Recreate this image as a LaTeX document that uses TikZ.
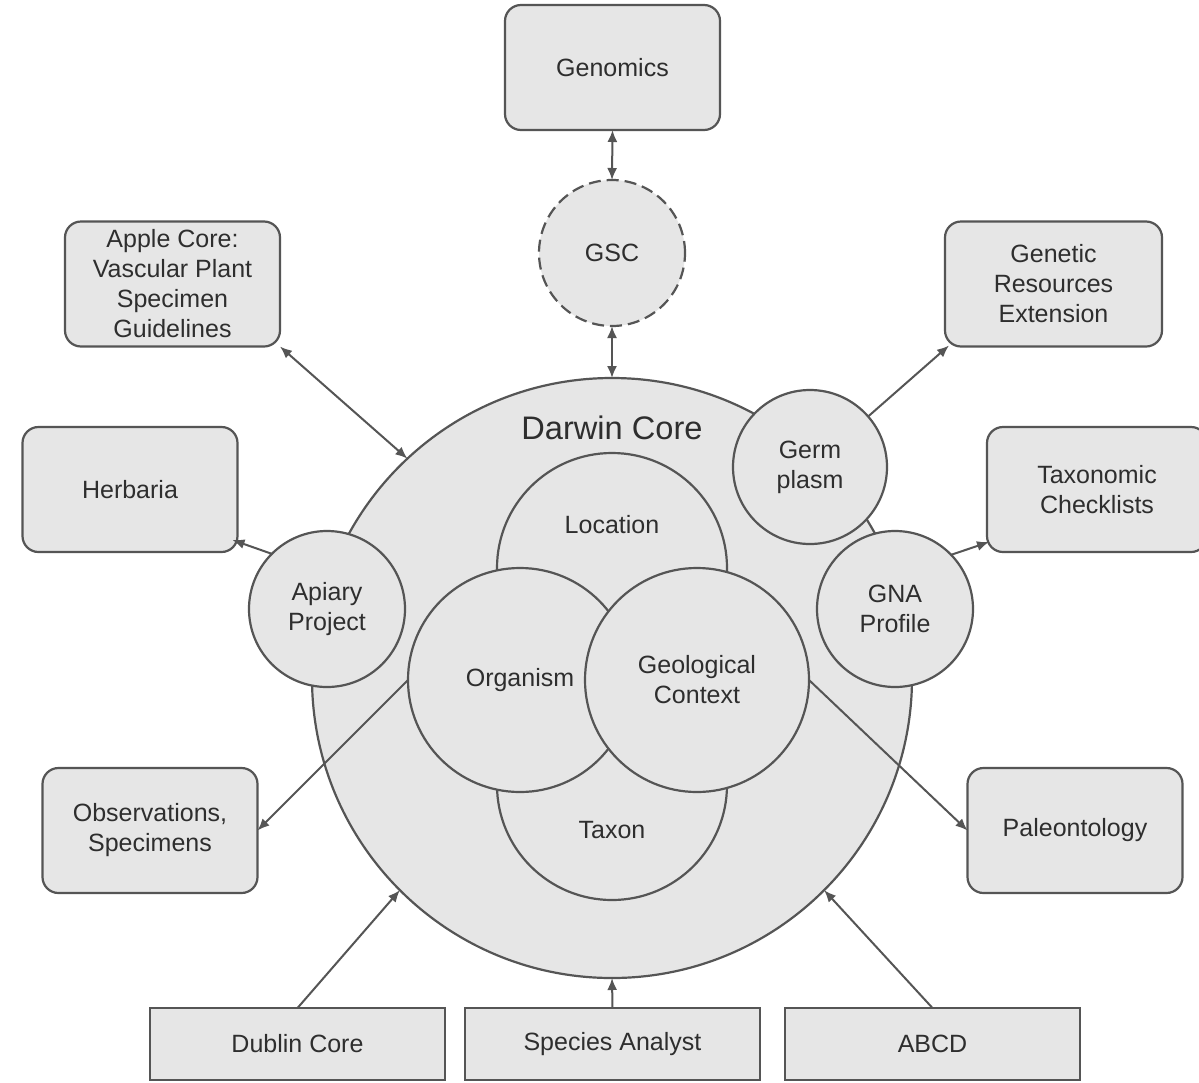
\documentclass[tikz,border=0pt]{standalone}
\usepackage{fontspec}
\setmainfont{Liberation Sans}
\usetikzlibrary{arrows.meta,calc}
\definecolor{fillc}{HTML}{E6E6E6}
\definecolor{linec}{HTML}{555555}
\definecolor{txtc}{HTML}{2E2E2E}
\begin{document}
\begin{tikzpicture}[x=0.5pt,y=-0.5pt,
 every node/.style={font=\fontsize{12.5}{15}\selectfont, text=txtc, inner sep=0pt, outer sep=0pt, align=center},
 shp/.style={draw=linec, fill=fillc, line width=1.1pt},
 rbox/.style={shp, rounded corners=8pt, minimum width=107.5pt, minimum height=62.5pt},
 sbox/.style={shp, minimum width=147.5pt, minimum height=36pt},
 circ/.style={shp, circle},
 arr/.style={draw=linec, line width=1pt, -{Latex[length=6pt,width=5pt]}},
 darr/.style={draw=linec, line width=1pt, {Latex[length=6pt,width=5pt]}-{Latex[length=6pt,width=5pt]}}
]
\fill[white] (0,0) rectangle (1199,1082);
\useasboundingbox (0,0) rectangle (1199,1082);

% Darwin Core big circle
\node[circ, minimum size=300pt] (dc) at (612,678) {};
\node[font=\fontsize{16.3}{19}\selectfont] (dcl) at (612,428) {Darwin Core};

% inner circles
\node[circ, minimum size=115pt] (loc) at (612,568) {};
\node (locl) at (612,525) {Location};
\node[circ, minimum size=115pt] (tax) at (612,785) {};
\node (taxl) at (612,830) {Taxon};
\node[circ, minimum size=112pt] (org) at (520,680) {Organism};
\node[circ, minimum size=112pt] (geo) at (697,680) {Geological\\Context};

% satellite circles
\node[circ, minimum size=78pt] (api) at (327,609) {Apiary\\Project};
\node[circ, minimum size=77pt] (germ) at (810,467) {Germ\\plasm};
\node[circ, minimum size=78pt] (gna) at (895,609) {GNA\\Profile};
\node[circ, minimum size=73pt, dash pattern=on 6pt off 3pt] (gsc) at (612,253) {GSC};

% boxes
\node[rbox] (gen) at (612.5,67.5) {Genomics};
\node[rbox] (apple) at (172.5,284) {Apple Core:\\Vascular Plant\\Specimen\\Guidelines};
\node[rbox] (herb) at (130,489.5) {Herbaria};
\node[rbox, minimum width=108.5pt] (gre) at (1053.5,284) {Genetic\\Resources\\Extension};
\node[rbox, minimum width=110pt] (taxc) at (1097,489.5) {Taxonomic\\Checklists};
\node[rbox] (obs) at (150,830.5) {Observations,\\Specimens};
\node[rbox] (pal) at (1075,830.5) {Paleontology};
\node[sbox] (dub) at (297.5,1044) {Dublin Core};
\node[sbox] (spa) at (612.5,1044) {Species Analyst};
\node[sbox] (abcd) at (932.5,1044) {ABCD};

% connectors
\draw[darr] (gen.south) -- (gsc.north);
\draw[darr] (gsc.south) -- (dc.north);
\draw[darr] (apple.south east) -- (dc.133);
\draw[arr] (api.135) -- ($(herb.south east)+(-5,-12)$);
\draw[arr] (germ.41) -- ($(gre.south west)+(4,-1)$);
\draw[arr] (gna.44) -- ($(taxc.south west)+(2,-10)$);
\draw[arr] (org.west) -- (obs.east);
\draw[arr] (geo.east) -- (pal.west);
\draw[arr] (dub.north) -- (dc.225);
\draw[arr] (spa.north) -- (dc.south);
\draw[arr] (abcd.north) -- (dc.315);
\end{tikzpicture}
\end{document}
